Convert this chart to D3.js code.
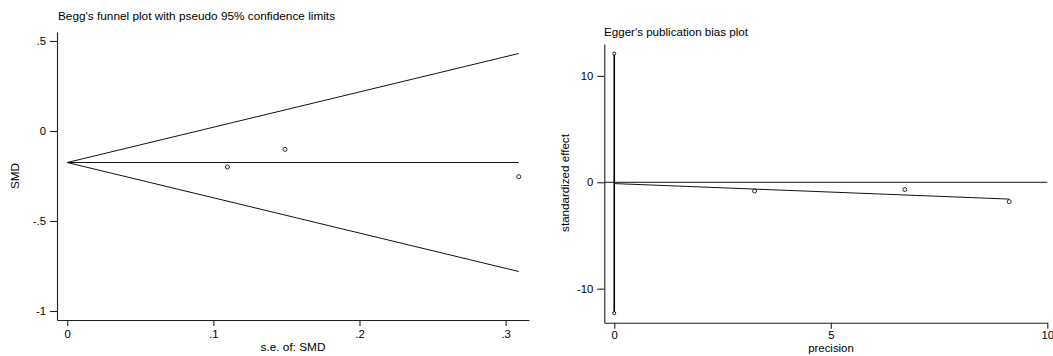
<!DOCTYPE html>
<html>
<head>
<meta charset="utf-8">
<script src="https://cdn.jsdelivr.net/npm/d3@7"></script>
<style>
  body { margin: 0; background: #fff; }
  svg text { font-family: "Liberation Sans", Arial, sans-serif; fill: #000; }
</style>
</head>
<body>
<div id="chart"></div>
<script>

// Study data
var studySE = [0.1096, 0.149, 0.309];
var studySMD = [-0.200, -0.102, -0.254];
var pooledSMD = -0.175;

// Egger plot values
var precision = [9.12, 6.71, 3.24];
var stdEffect = [-1.82, -0.68, -0.82];
var eggerIntercept = -0.12;
var eggerSlope = -0.16;
var interceptCI = [-12.3, 12.1];

// Tick labels
var beggYTicks = [-1, -0.5, 0, 0.5];
var beggXTicks = [0, 0.1, 0.2, 0.3];
var eggerYTicks = [-10, 0, 10];
var eggerXTicks = [0, 5, 10];

var width = 1053, height = 356;

var svg = d3.select("#chart").append("svg")
  .attr("width", width)
  .attr("height", height);

// Stata style numbers: .5 instead of 0.5
function stataFmt(d) {
  return String(d).replace(/^(-?)0\./, "$1.");
}

function drawAxes(g, x, y, xTicks, yTicks, xPad) {
  g.append("g")
    .attr("transform", "translate(0," + y.range()[0] + ")")
    .call(d3.axisBottom(x).tickValues(xTicks).tickSize(6).tickSizeOuter(0).tickPadding(xPad).tickFormat(stataFmt));
  g.append("g")
    .attr("transform", "translate(" + x.range()[0] + ",0)")
    .call(d3.axisLeft(y).tickValues(yTicks).tickSize(7).tickSizeOuter(0).tickPadding(4).tickFormat(stataFmt));
  g.selectAll(".domain, .tick line").attr("stroke", "#222").attr("stroke-width", 1.1);
  g.selectAll(".tick text").attr("font-size", 11.3).attr("font-family", "Liberation Sans, Arial, sans-serif");
}

// ---- Begg's funnel plot ----
var bx = d3.scaleLinear().domain([-0.007, 0.316]).range([57, 529]);
var by = d3.scaleLinear().domain([-1.05, 0.55]).range([320, 32]);
var begg = svg.append("g");

drawAxes(begg, bx, by, beggXTicks, beggYTicks, 4);

var maxSE = d3.max(studySE);
var line = d3.line().x(function(d) { return d[0]; }).y(function(d) { return d[1]; });

// pseudo 95% limits and pooled estimate
[1.96, 0, -1.96].forEach(function(z) {
  begg.append("path")
    .attr("d", line([[bx(0), by(pooledSMD)], [bx(maxSE), by(pooledSMD + z * maxSE)]]))
    .attr("fill", "none")
    .attr("stroke", "#111")
    .attr("stroke-width", 1);
});

begg.selectAll("circle.pt")
  .data(studySE)
  .enter().append("circle")
  .attr("class", "pt")
  .attr("cx", function(d) { return bx(d); })
  .attr("cy", function(d, i) { return by(studySMD[i]); })
  .attr("r", 2)
  .attr("fill", "none")
  .attr("stroke", "#111")
  .attr("stroke-width", 0.9);

begg.append("text")
  .attr("x", 58).attr("y", 19.5)
  .attr("font-size", 11.8)
  .text("Begg's funnel plot with pseudo 95% confidence limits");

begg.append("text")
  .attr("transform", "translate(19,176) rotate(-90)")
  .attr("text-anchor", "middle")
  .attr("font-size", 11.8)
  .text("SMD");

begg.append("text")
  .attr("x", 293).attr("y", 351)
  .attr("text-anchor", "middle")
  .attr("font-size", 11.8)
  .text("s.e. of: SMD");

// ---- Egger's plot ----
var ex = d3.scaleLinear().domain([-0.23, 10]).range([604.3, 1047.3]);
var ey = d3.scaleLinear().domain([-13.2, 13.0]).range([322.7, 44]);
var egger = svg.append("g");

drawAxes(egger, ex, ey, eggerXTicks, eggerYTicks, 2);

// zero reference line
egger.append("path")
  .attr("d", line([[ex(-0.23), ey(0)], [ex(10), ey(0)]]))
  .attr("stroke", "#111").attr("stroke-width", 1);

// intercept CI
egger.append("path")
  .attr("d", line([[ex(0), ey(interceptCI[0])], [ex(0), ey(interceptCI[1])]]))
  .attr("stroke", "#000").attr("stroke-width", 1.6);

egger.selectAll("circle.ci")
  .data(interceptCI)
  .enter().append("circle")
  .attr("class", "ci")
  .attr("cx", ex(0))
  .attr("cy", function(d) { return ey(d); })
  .attr("r", 1.5)
  .attr("fill", "#fff")
  .attr("stroke", "#000")
  .attr("stroke-width", 0.9);

// regression line
var maxPrec = d3.max(precision);
egger.append("path")
  .attr("d", line([[ex(0), ey(eggerIntercept)], [ex(maxPrec), ey(eggerIntercept + eggerSlope * maxPrec)]]))
  .attr("stroke", "#111").attr("stroke-width", 1);

egger.selectAll("circle.pt")
  .data(precision)
  .enter().append("circle")
  .attr("class", "pt")
  .attr("cx", function(d) { return ex(d); })
  .attr("cy", function(d, i) { return ey(stdEffect[i]); })
  .attr("r", 2)
  .attr("fill", "none")
  .attr("stroke", "#111")
  .attr("stroke-width", 0.9);

egger.append("text")
  .attr("x", 604).attr("y", 35.5)
  .attr("font-size", 11.6)
  .text("Egger's publication bias plot");

egger.append("text")
  .attr("transform", "translate(569,183) rotate(-90)")
  .attr("text-anchor", "middle")
  .attr("font-size", 11.6)
  .text("standardized effect");

egger.append("text")
  .attr("x", 831).attr("y", 351.5)
  .attr("text-anchor", "middle")
  .attr("font-size", 11.4)
  .text("precision");

</script>
</body>
</html>
